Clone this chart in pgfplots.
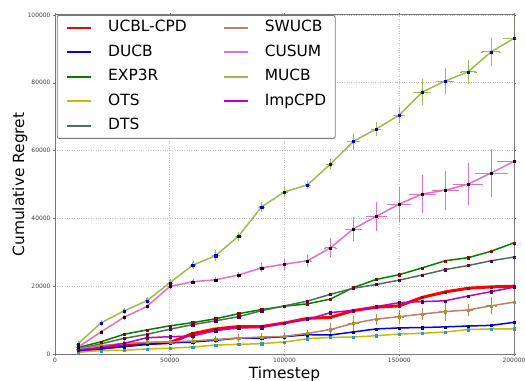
\documentclass[border=0pt]{standalone}
\usepackage{pgfplots}
\pgfplotsset{compat=1.18}
\usepackage{fontspec}
\setmainfont{DejaVu Sans}
\definecolor{cRed}{RGB}{255,0,0}
\definecolor{cBlue}{RGB}{0,0,255}
\definecolor{cGreen}{RGB}{0,128,0}
\definecolor{cOts}{RGB}{191,191,0}
\definecolor{cDts}{RGB}{80,110,80}
\definecolor{cSw}{RGB}{192,128,104}
\definecolor{cCus}{RGB}{232,110,185}
\definecolor{cMu}{RGB}{154,188,80}
\definecolor{cImp}{RGB}{192,0,192}
\definecolor{cFrame}{RGB}{120,120,120}
\begin{document}
\begin{tikzpicture}
\useasboundingbox (-55bp,-27bp) rectangle (470bp,354bp);
\begin{axis}[
  at={(0,0)}, anchor=south west,
  scale only axis, width=459bp, height=339bp,
  xmin=0, xmax=200000, ymin=0, ymax=100000,
  xtick={0,50000,100000,150000,200000},
  ytick={0,20000,40000,60000,80000,100000},
  scaled ticks=false,
  /pgf/number format/.cd, fixed, 1000 sep={}, assume math mode=true, /pgfplots/.cd,
  tick label style={font=\fontsize{6}{7}\selectfont, text=black!75},
  xticklabel style={yshift=1bp},
  yticklabel style={xshift=1bp},
  tick align=outside, major tick length=2bp,
  tick style={cFrame},
  axis line style={cFrame, line width=1bp},
  grid=major,
  major grid style={dotted, gray!45, line width=0.6bp},
  every axis x label/.style={at={(axis description cs:0.5,-0.0708)}, anchor=base},
  every axis y label/.style={at={(axis description cs:-0.0675,0.5)}, rotate=90, anchor=base},
  label style={font=\fontsize{15.5}{16}\selectfont},
  xlabel={Timestep}, ylabel={Cumulative Regret},
  legend columns=2,
  legend cell align=left,
  legend image code/.code={\draw[line width=2bp,#1] (0bp,0bp) -- (24bp,0bp);},
  legend style={at={(axis description cs:0.004,1)}, anchor=north west,
    draw=cFrame, line width=0.8bp, rounded corners=2bp, fill=white,
    font=\fontsize{15.5}{16}\selectfont, inner xsep=9bp, inner ysep=5bp,
    nodes={inner sep=0pt, text height=11.5bp, text depth=3.5bp},
    row sep=9.5bp,
    /tikz/every odd column/.append style={column sep=16bp},
    /tikz/every even column/.append style={column sep=36bp}},
  error bars/error bar style={line width=0.8bp},
  error bars/error mark options={rotate=90, mark size=2.2bp, line width=0.8bp},
]
% UCBL-CPD
\addplot[cRed, line width=3bp, mark=square*, mark size=1.1bp, mark options={fill=red!70!black, draw=red!70!black, line width=0.3bp}, forget plot] table {
x y
10000 1000
20000 1700
30000 2450
40000 3050
50000 3350
60000 6000
70000 7400
80000 8100
90000 8100
100000 9150
110000 10500
120000 10800
130000 12800
140000 13800
150000 14200
160000 16700
170000 18300
180000 19400
190000 19800
200000 20000
};
% DUCB
\addplot[cBlue, line width=1.5bp, mark=square*, mark size=1.1bp, mark options={fill=blue!60!black, draw=blue!60!black, line width=0.3bp}, forget plot] table {
x y
10000 1000
20000 1500
30000 2150
40000 2850
50000 3250
60000 3550
70000 4050
80000 4700
90000 4700
100000 5100
110000 5700
120000 5600
130000 6500
140000 7400
150000 7700
160000 7800
170000 8000
180000 8250
190000 8450
200000 9350
};
% EXP3R
\addplot[cGreen, line width=1.5bp, mark=square*, mark size=1.1bp, mark options={fill=red!60!black, draw=red!60!black, line width=0.3bp}, forget plot] table {
x y
10000 1900
20000 3600
30000 5800
40000 7100
50000 8300
60000 9250
70000 10400
80000 11900
90000 13100
100000 14100
110000 14800
120000 16200
130000 19600
140000 22000
150000 23400
160000 25400
170000 27500
180000 28400
190000 30300
200000 32800
};
% OTS
\addplot[cOts, line width=1.5bp, mark=square*, mark size=1.1bp, mark options={fill=cyan!60!teal, draw=cyan!60!teal, line width=0.3bp}, forget plot] table {
x y
10000 500
20000 1000
30000 1100
40000 1500
50000 1700
60000 2050
70000 2650
80000 2850
90000 3050
100000 3550
110000 4500
120000 4900
130000 5000
140000 5400
150000 5900
160000 6100
170000 6500
180000 7200
190000 7400
200000 7450
};
% DTS
\addplot[cDts, line width=1.5bp, mark=square*, mark size=1.1bp, mark options={fill=violet!70!black, draw=violet!70!black, line width=0.3bp}, forget plot] table {
x y
10000 1500
20000 3000
30000 4600
40000 5800
50000 7300
60000 8650
70000 9800
80000 11000
90000 12800
100000 14200
110000 15600
120000 17600
130000 19400
140000 20500
150000 21800
160000 23300
170000 24900
180000 26100
190000 27500
200000 28600
};
% SWUCB
\addplot[cSw, line width=1.5bp, mark=square*, mark size=1.1bp, mark options={fill=olive!80!yellow, draw=olive!80!yellow, line width=0.3bp}, forget plot,
  error bars/.cd, x dir=both, y dir=both, x explicit, y explicit, error bar style={cSw}, error mark options={cSw}] 
  table[x=x, y=y, x error=e, y error=e] {
x y e
10000 1500 400
20000 2450 500
30000 3150 600
40000 3450 600
50000 3550 700
60000 3850 800
70000 4300 800
80000 4700 900
90000 5000 800
100000 5200 700
110000 6100 800
120000 7200 1600
130000 9050 1800
140000 10300 1300
150000 11000 1800
160000 11800 1300
170000 12500 2400
180000 13000 1500
190000 14200 2200
200000 15300 2300
};
% CUSUM
\addplot[cCus, line width=1.5bp, mark=square*, mark size=1.1bp, mark options={fill=black, draw=black, line width=0.3bp}, forget plot,
  error bars/.cd, x dir=both, y dir=both, x explicit, y explicit, error bar style={cCus}, error mark options={cCus}]
  table[x=x, y=y, x error=e, y error=e] {
x y e
10000 2000 300
20000 6500 300
30000 10800 300
40000 14000 400
50000 19900 500
60000 21300 400
70000 21900 400
80000 23300 500
90000 25400 1000
100000 26500 1250
110000 27500 1500
120000 31300 2500
130000 36900 3300
140000 40600 4000
150000 44200 4800
160000 47200 5400
170000 48300 5400
180000 50100 5900
190000 53400 6700
200000 56800 7100
};
% MUCB
\addplot[cMu, line width=1.5bp, mark=square*, mark size=1.1bp, mark options={fill=blue!80!black, draw=blue!80!black, line width=0.3bp}, forget plot,
  error bars/.cd, x dir=both, y dir=both, x explicit, y explicit, error bar style={cMu}, error mark options={cMu}]
  table[x=x, y=y, x error=e, y error=e] {
x y e
10000 3000 500
20000 9150 500
30000 12700 600
40000 15700 800
50000 21000 900
60000 26200 900
70000 29000 1300
80000 34800 1000
90000 43400 1100
100000 47800 1200
110000 49900 900
120000 56000 1250
130000 62700 2200
140000 66400 1700
150000 70500 2100
160000 77250 3400
170000 80500 3550
180000 83250 3250
190000 89150 3800
200000 93100 4400
};
% ImpCPD
\addplot[cImp, line width=1.5bp, mark=square*, mark size=1.1bp, mark options={fill=violet!70!black, draw=violet!70!black, line width=0.3bp}, forget plot] table {
x y
10000 1200
20000 1900
30000 3150
40000 4800
50000 5100
60000 5300
70000 6900
80000 7700
90000 7800
100000 9150
110000 10200
120000 12200
130000 12900
140000 14000
150000 15150
160000 15450
170000 15700
180000 17100
190000 18400
200000 19700
};
\addlegendimage{cRed, line width=3.5bp}\addlegendentry{UCBL-CPD}
\addlegendimage{cSw}\addlegendentry{SWUCB}
\addlegendimage{cBlue}\addlegendentry{DUCB}
\addlegendimage{cCus}\addlegendentry{CUSUM}
\addlegendimage{cGreen}\addlegendentry{EXP3R}
\addlegendimage{cMu}\addlegendentry{MUCB}
\addlegendimage{cOts}\addlegendentry{OTS}
\addlegendimage{cImp}\addlegendentry{ImpCPD}
\addlegendimage{cDts}\addlegendentry{DTS}
\end{axis}
\end{tikzpicture}
\end{document}
